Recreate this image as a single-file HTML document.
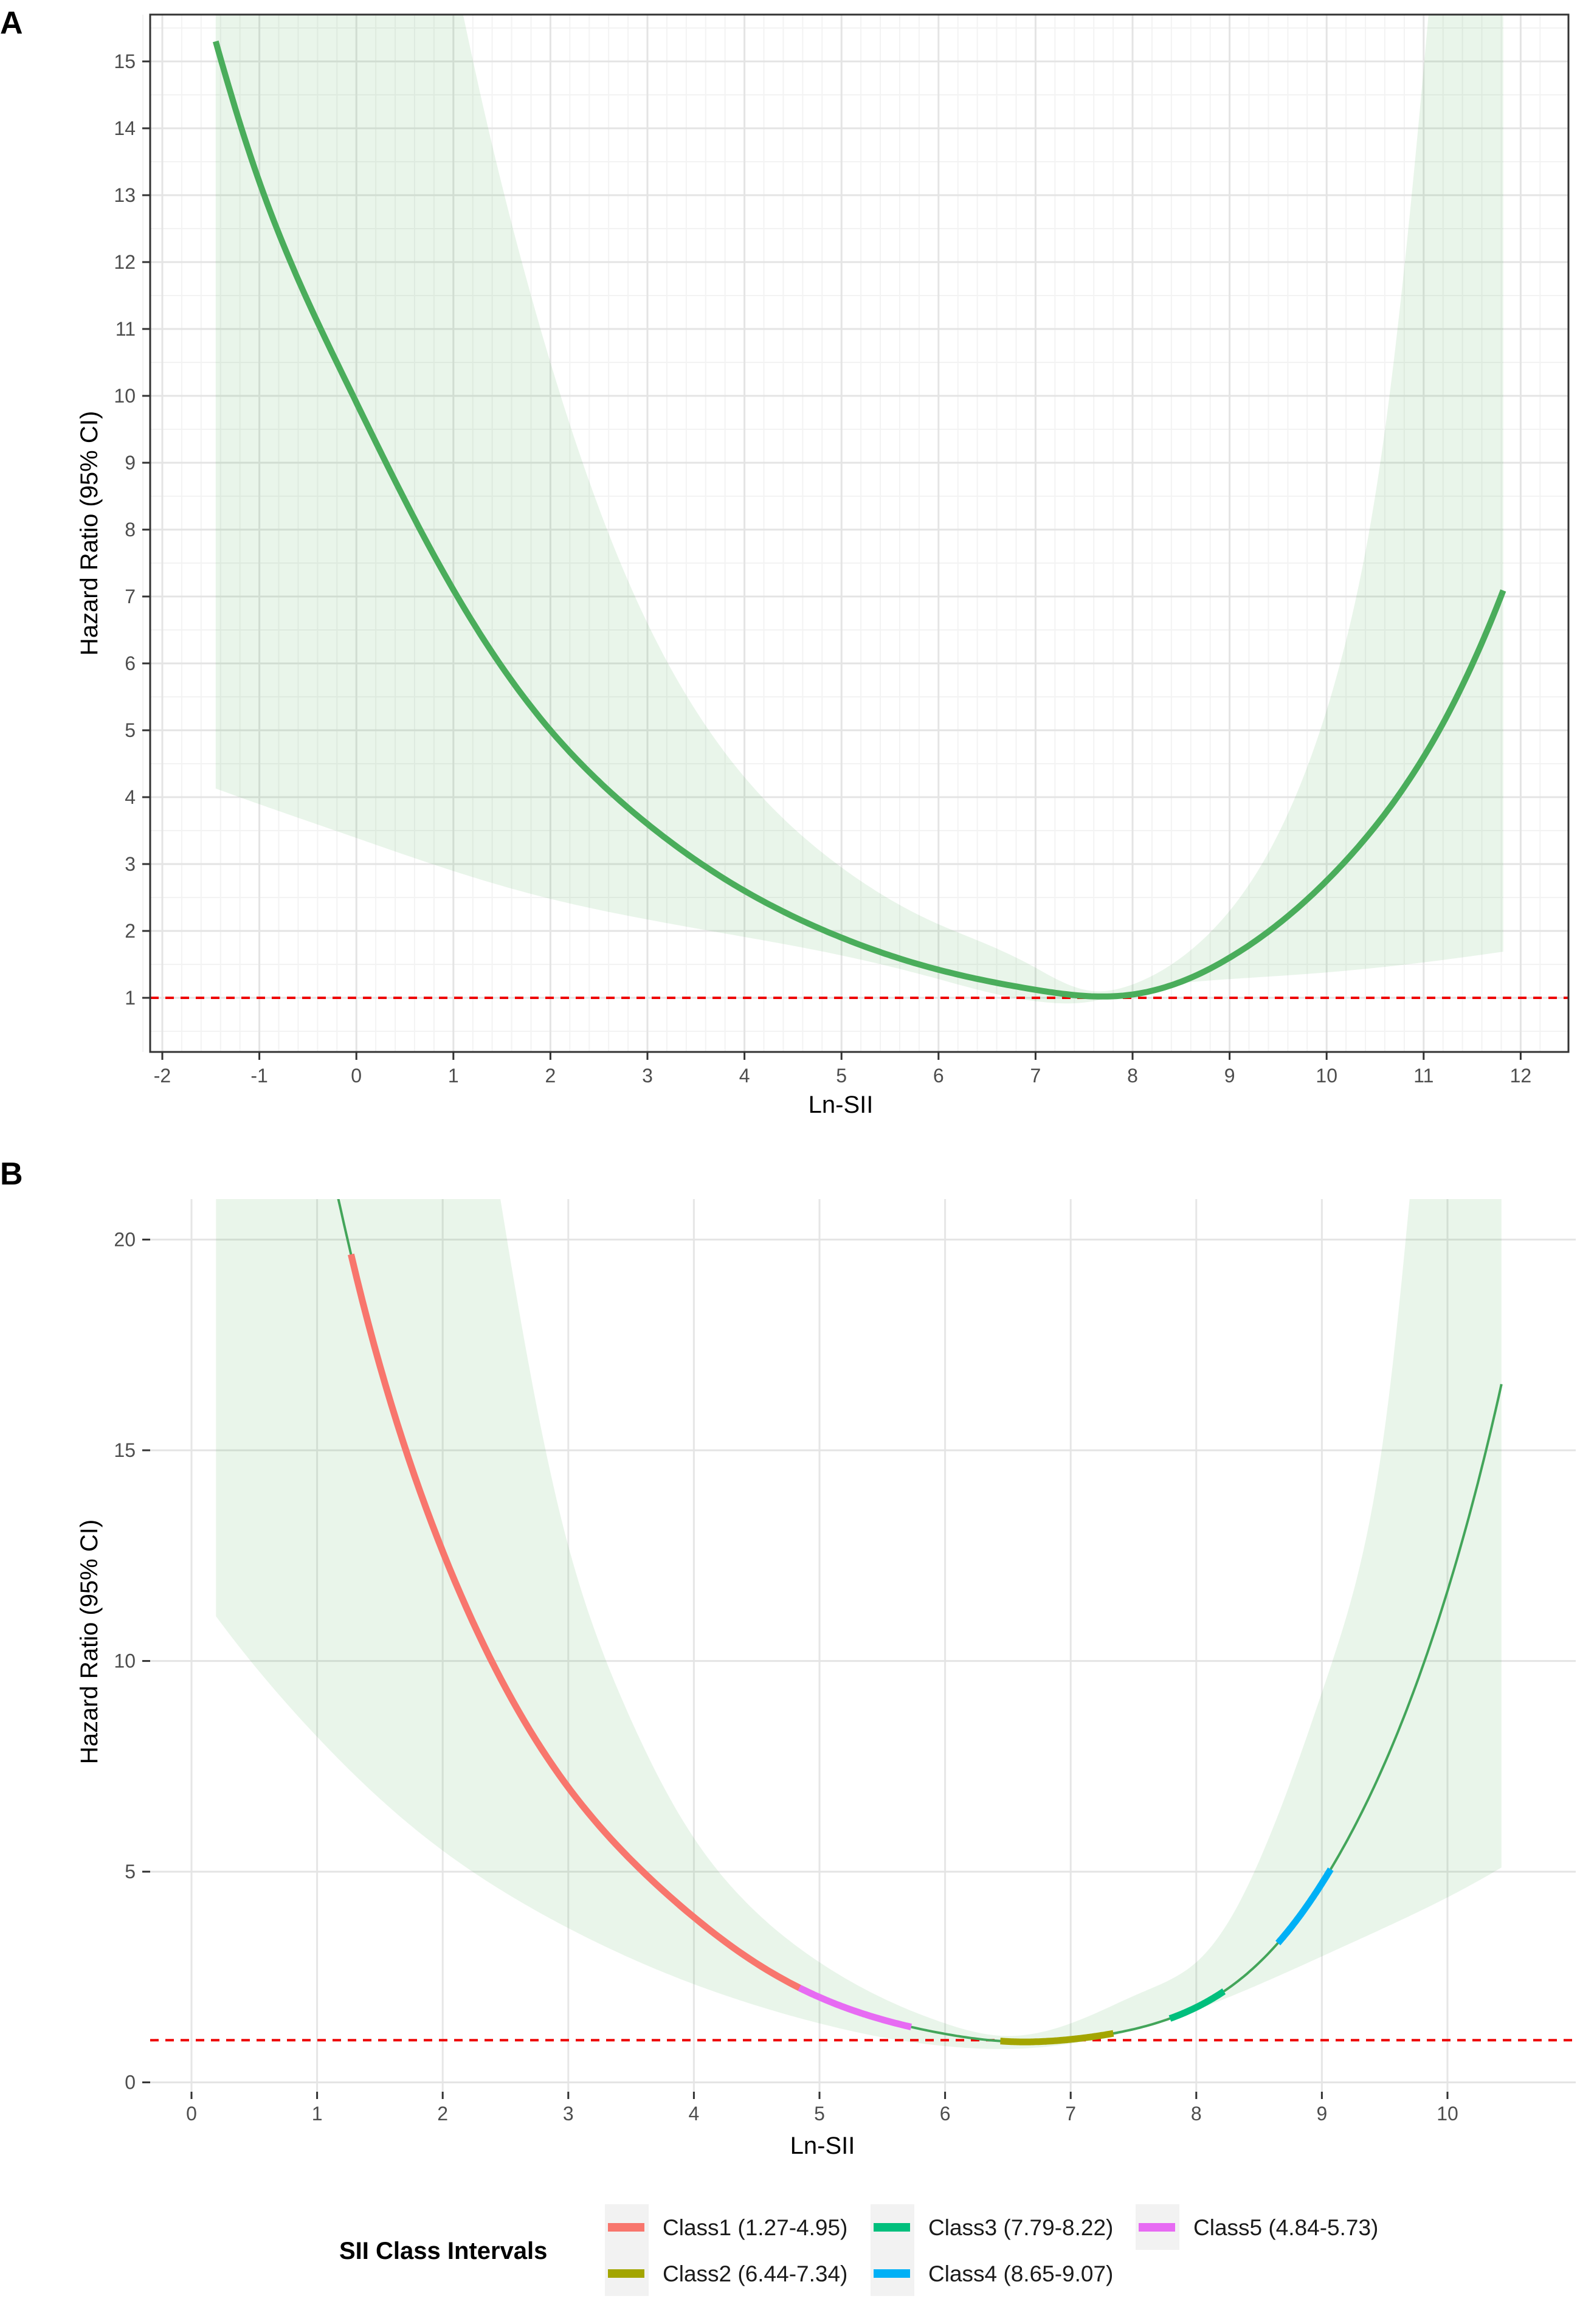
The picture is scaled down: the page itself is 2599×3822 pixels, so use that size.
<!DOCTYPE html>
<html><head><meta charset="utf-8"><style>
body{margin:0;background:#fff}
svg text{font-family:"Liberation Sans",sans-serif}
</style></head><body>
<svg id="chart" xmlns="http://www.w3.org/2000/svg" width="2599" height="3817" viewBox="0 0 2599 3817">
<defs>
<clipPath id="clipA"><rect x="247" y="24" width="2333" height="1706"/></clipPath>
<clipPath id="clipB"><rect x="247" y="1972" width="2345" height="1468"/></clipPath>
</defs>
<text x="0" y="55" font-size="52" font-weight="bold">A</text>
<text x="0" y="1948" font-size="52" font-weight="bold">B</text>
<g id="gA"></g>
<g id="gB"></g>
<g id="legend"></g>
</svg>
<script>
// ---------- Panel A data ----------
const aCurveX = [-1.45,-1,0,1,2,3,4,5,6,7,7.65,8,9,10,11,11.82];
const aCurveY = [15.3,13.2,9.9,7.1,5.0,3.6,2.6,1.9,1.42,1.12,1.02,1.05,1.6,2.75,4.6,7.09];
const aLowX = [-1.45,0,2,4,6,7,7.5,8,9,10,11.82];
const aLowY = [4.13,3.39,2.48,1.91,1.28,0.95,0.93,1.09,1.28,1.38,1.69];
const aUpX = [-1.45,0,1.1,2,3,4,5,6,7,7.6,8,8.5,9,10,10.5,11.05,11.82];
const aUpY = [40,25,15.7,10.5,6.6,4.3,2.95,2.1,1.45,1.1,1.2,1.6,2.3,5.3,8.5,15.7,30];
const aXTicks = [-2,-1,0,1,2,3,4,5,6,7,8,9,10,11,12];
const aYTicks = [1,2,3,4,5,6,7,8,9,10,11,12,13,14,15];
// ---------- Panel B data ----------
const bCurveX = [1.0,1.17,1.27,2,3,4,5,6,6.6,7,8,9,10,10.43];
const bCurveY = [23.2,20.95,19.65,12.6,7.0,3.92,2.02,1.15,0.96,1.02,1.78,4.72,11.66,16.57];
const bLowX = [0.195,1,2,3,4,5,6,6.6,7,8,9,10,10.43];
const bLowY = [11.06,8.2,5.5,3.66,2.33,1.4,0.86,0.8,0.92,1.72,2.99,4.39,5.1];
const bUpX = [0.195,1,2,2.46,3,3.5,4,5,6,6.5,7,7.5,8,8.5,9,9.5,9.7,10,10.43];
const bUpY = [100,60,30,20.95,12.73,8.6,5.8,2.85,1.4,1.1,1.4,2.05,2.85,5.25,9.25,15.5,21,30,40];
const bXTicks = [0,1,2,3,4,5,6,7,8,9,10];
const bYTicks = [0,5,10,15,20];
const classNames = ["Class1 (1.27-4.95)","Class2 (6.44-7.34)","Class3 (7.79-8.22)","Class4 (8.65-9.07)","Class5 (4.84-5.73)"];
const classStart = [1.27,6.44,7.79,8.65,4.84];
const classEnd = [4.95,7.34,8.22,9.07,5.73];
const classColors = ["#F8766D","#A3A500","#00BF7D","#00B0F6","#E76BF3"];

const NS="http://www.w3.org/2000/svg";
function mk(tag,attrs,parent){const e=document.createElementNS(NS,tag);for(const k in attrs)e.setAttribute(k,attrs[k]);parent.appendChild(e);return e;}
// natural cubic spline in log space
function spline(xs,ysRaw){
  const n=xs.length, ys=ysRaw.map(v=>Math.log(v));
  const h=[],a=[],l=[1],mu=[0],z=[0],c=new Array(n).fill(0),b=[],d=[];
  for(let i=0;i<n-1;i++)h.push(xs[i+1]-xs[i]);
  for(let i=1;i<n-1;i++)a[i]=3/h[i]*(ys[i+1]-ys[i])-3/h[i-1]*(ys[i]-ys[i-1]);
  for(let i=1;i<n-1;i++){l[i]=2*(xs[i+1]-xs[i-1])-h[i-1]*mu[i-1];mu[i]=h[i]/l[i];z[i]=(a[i]-h[i-1]*z[i-1])/l[i];}
  for(let j=n-2;j>=0;j--){c[j]=(j>0?z[j]:0)-mu[j]*c[j+1];if(j===0)c[0]=0;b[j]=(ys[j+1]-ys[j])/h[j]-h[j]*(c[j+1]+2*c[j])/3;d[j]=(c[j+1]-c[j])/(3*h[j]);}
  return x=>{let i=0;while(i<n-2&&x>xs[i+1])i++;const t=x-xs[i];return Math.exp(ys[i]+b[i]*t+c[i]*t*t+d[i]*t*t*t);};
}
function sample(f,a,b,sx,sy,n){const pts=[];for(let k=0;k<=n;k++){const x=a+(b-a)*k/n;pts.push(sx(x).toFixed(1)+","+sy(Math.min(f(x),150)).toFixed(1));}return pts;}

// ===== Panel A =====
(function(){
const g=document.getElementById('gA');
const sx=v=>267+(v+2)*159.6, sy=v=>1641-(v-1)*110;
const fC=spline(aCurveX,aCurveY), fL=spline(aLowX,aLowY), fU=spline(aUpX,aUpY);
mk('rect',{x:247,y:24,width:2333,height:1706,fill:'#fff'},g);
for(let v=-2.2;v<=12.3;v+=0.2){mk('line',{x1:sx(v),x2:sx(v),y1:24,y2:1730,stroke:'#f3f3f3','stroke-width':2},g);}
for(let v=0.5;v<=15.5;v+=1){mk('line',{x1:247,x2:2580,y1:sy(v),y2:sy(v),stroke:'#f3f3f3','stroke-width':2},g);}
aXTicks.forEach(v=>{const l=mk('line',{x1:sx(v),x2:sx(v),y1:24,y2:1730,stroke:'#e4e4e4','stroke-width':3},g);});
aYTicks.forEach(v=>{const l=mk('line',{x1:247,x2:2580,y1:sy(v),y2:sy(v),stroke:'#e4e4e4','stroke-width':3},g);});
const cg=mk('g',{'clip-path':'url(#clipA)'},g);
const up=sample(fU,-1.45,11.82,sx,sy,400), lo=sample(fL,-1.45,11.82,sx,sy,400).reverse();
const rib=mk('polygon',{points:up.concat(lo).join(' '),fill:'#4caf50','fill-opacity':0.12},cg);

const dash=mk('line',{x1:247,x2:2580,y1:sy(1),y2:sy(1),stroke:'#ee0000','stroke-width':4,'stroke-dasharray':'14 11'},cg);

const cur=mk('polyline',{points:sample(fC,-1.45,11.82,sx,sy,400).join(' '),fill:'none',stroke:'#4aad5b','stroke-width':10},cg);

mk('rect',{x:247,y:24,width:2333,height:1706,fill:'none',stroke:'#333','stroke-width':3},g);
aXTicks.forEach(v=>{mk('line',{x1:sx(v),x2:sx(v),y1:1730,y2:1743,stroke:'#333','stroke-width':3},g);
 const t=mk('text',{x:sx(v),y:1780,'font-size':32,fill:'#4d4d4d','text-anchor':'middle'},g);t.textContent=v;
 });
aYTicks.forEach(v=>{mk('line',{x1:234,x2:247,y1:sy(v),y2:sy(v),stroke:'#333','stroke-width':3},g);
 const t=mk('text',{x:223,y:sy(v)+11,'font-size':32,fill:'#4d4d4d','text-anchor':'end'},g);t.textContent=v;
 });
const xt=mk('text',{x:1383,y:1830,'font-size':40,'text-anchor':'middle'},g);xt.textContent='Ln-SII';

const yt=mk('text',{x:0,y:0,'font-size':40,'text-anchor':'middle',transform:'translate(160,877) rotate(-90)'},g);yt.textContent='Hazard Ratio (95% CI)';

})();

// ===== Panel B =====
(function(){
const g=document.getElementById('gB');
const sx=v=>315+v*206.6, sy=v=>3424.6-v*69.3;
const fC=spline(bCurveX,bCurveY), fL=spline(bLowX,bLowY), fU=spline(bUpX,bUpY);
bXTicks.forEach(v=>{const l=mk('line',{x1:sx(v),x2:sx(v),y1:1972,y2:3440,stroke:'#e6e6e6','stroke-width':3},g);});
bYTicks.forEach(v=>{const l=mk('line',{x1:247,x2:2592,y1:sy(v),y2:sy(v),stroke:'#e4e4e4','stroke-width':3},g);});
const cg=mk('g',{'clip-path':'url(#clipB)'},g);
const up=sample(fU,0.195,10.43,sx,sy,400), lo=sample(fL,0.195,10.43,sx,sy,400).reverse();
const rib=mk('polygon',{points:up.concat(lo).join(' '),fill:'#4caf50','fill-opacity':0.12},cg);

const dash=mk('line',{x1:247,x2:2592,y1:sy(1),y2:sy(1),stroke:'#ee0000','stroke-width':4,'stroke-dasharray':'14 11'},cg);

const cur=mk('polyline',{points:sample(fC,1.0,10.43,sx,sy,400).join(' '),fill:'none',stroke:'#43a55a','stroke-width':4},cg);

for(let i=0;i<classNames.length;i++){
 const s=mk('polyline',{points:sample(fC,classStart[i],classEnd[i],sx,sy,80).join(' '),fill:'none',stroke:classColors[i],'stroke-width':11},cg);
 
}
bXTicks.forEach(v=>{mk('line',{x1:sx(v),x2:sx(v),y1:3440,y2:3452,stroke:'#333','stroke-width':3},g);
 const t=mk('text',{x:sx(v),y:3487,'font-size':32,fill:'#4d4d4d','text-anchor':'middle'},g);t.textContent=v;
 });
bYTicks.forEach(v=>{mk('line',{x1:234,x2:247,y1:sy(v),y2:sy(v),stroke:'#333','stroke-width':3},g);
 const t=mk('text',{x:223,y:sy(v)+11,'font-size':32,fill:'#4d4d4d','text-anchor':'end'},g);t.textContent=v;
 });
const xt=mk('text',{x:1353,y:3542,'font-size':40,'text-anchor':'middle'},g);xt.textContent='Ln-SII';

const yt=mk('text',{x:0,y:0,'font-size':40,'text-anchor':'middle',transform:'translate(160,2700) rotate(-90)'},g);yt.textContent='Hazard Ratio (95% CI)';

})();

// ===== Legend =====
(function(){
const g=document.getElementById('legend');
const tt=mk('text',{x:558,y:3715,'font-size':40,'font-weight':'bold'},g);tt.textContent='SII Class Intervals';

const colX=[995,1432,1868], rowY=[3663,3739];
[0,1,2].forEach(c=>{mk('rect',{x:colX[c],y:3625,width:72,height:c<2?151:75,fill:'#f2f2f2'},g);});
for(let i=0;i<classNames.length;i++){
 const c=Math.floor(i/2), r=i%2;
 const e=mk('g',{},g);
 
 
 mk('rect',{x:colX[c]+5,y:rowY[r]-7,width:60,height:14,fill:classColors[i]},e);
 const t=mk('text',{x:colX[c]+95,y:rowY[r]+13,'font-size':37,fill:'#1a1a1a'},e);t.textContent=classNames[i];
}
})();
</script>
</body></html>
